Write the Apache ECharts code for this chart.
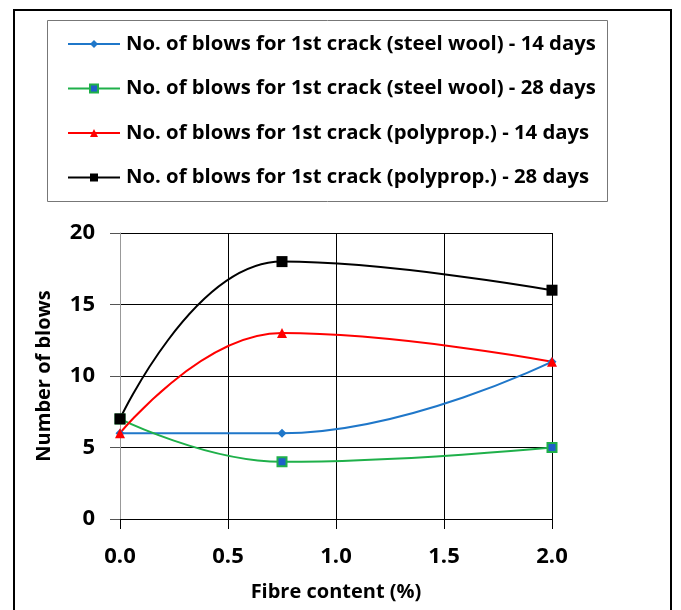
<!DOCTYPE html>
<html><head><meta charset="utf-8">
<script src="https://cdn.jsdelivr.net/npm/echarts@6/dist/echarts.min.js"></script>
<style>html,body{margin:0;padding:0;background:#fff;}#c{width:681px;height:610px;}</style>
</head><body><div id="c"></div>
<script>
const fibre = [0, 0.75, 2.0];
const steel14 = [6, 6, 11];
const steel28 = [7, 4, 5];
const poly14 = [6, 13, 11];
const poly28 = [7, 18, 16];
const names = [
  'No. of blows for 1st crack (steel wool) - 14 days',
  'No. of blows for 1st crack (steel wool) - 28 days',
  'No. of blows for 1st crack (polyprop.) - 14 days',
  'No. of blows for 1st crack (polyprop.) - 28 days'
];
const xTicks = [0, 0.5, 1.0, 1.5, 2.0];
const yTicks = [0, 5, 10, 15, 20];

const F = '"Open Sans", Lato, sans-serif';
function pts(v){ return fibre.map((x,i)=>[x, v[i]]); }
const chart = echarts.init(document.getElementById('c'));
function ser(name, vals, color, symbol, size, fill, bcolor){
  return {name, type:'line', data:pts(vals), smooth:0.45, symbol, symbolSize:size,
    lineStyle:{color, width:2}, itemStyle:{color:fill, borderColor:bcolor||fill, borderWidth:bcolor?2:0},
    emphasis:{disabled:true}, z:3};
}
chart.setOption({
  animation:false,
  graphic:[
    {type:'rect', shape:{x:14, y:10, width:657, height:620}, style:{fill:'none', stroke:'#000', lineWidth:2}, z:-1},
    {type:'rect', shape:{x:47.5, y:20.5, width:560, height:181}, style:{fill:'none', stroke:'#777', lineWidth:1}, z:-1}
  ],
  legend:{
    orient:'vertical', left:62, top:29, itemGap:24.5, itemWidth:52, itemHeight:10,
    textStyle:{fontFamily:F, fontWeight:'bold', fontSize:20.3, color:'#000', padding:[0,0,0,1]},
    data:names
  },
  grid:{left:120, right:129, top:233, height:286},
  xAxis:{type:'value', min:0, max:2, interval:0.5,
    axisLine:{show:true, onZero:false, lineStyle:{color:'#000'}},
    axisTick:{show:true, length:10, lineStyle:{color:'#000'}},
    splitLine:{show:true, lineStyle:{color:'#000', width:1}},
    axisLabel:{formatter:v=>v.toFixed(1), margin:27, fontFamily:F, fontWeight:'bold', fontSize:22, color:'#000'},
    name:'Fibre content (%)', nameLocation:'middle', nameGap:63,
    nameTextStyle:{fontFamily:F, fontWeight:'bold', fontSize:20, color:'#000'}
  },
  yAxis:{type:'value', min:0, max:20, interval:5,
    axisLine:{show:true, lineStyle:{color:'#999'}},
    axisTick:{show:true, length:10, lineStyle:{color:'#555'}},
    splitLine:{show:true, lineStyle:{color:'#000', width:1}},
    axisLabel:{margin:25, fontFamily:F, fontWeight:'bold', fontSize:22, color:'#000'},
    name:'Number of blows', nameLocation:'middle', nameGap:66,
    nameTextStyle:{fontFamily:F, fontWeight:'bold', fontSize:20, color:'#000'}
  },
  series:[
    ser(names[0], steel14, '#1f77c9', 'diamond', 9, '#1f77c9'),
    ser(names[1], steel28, '#1fb04a', 'rect', 9, '#1f5fc9', '#1fb04a'),
    ser(names[2], poly14, '#ff0000', 'triangle', 10, '#ff0000'),
    ser(names[3], poly28, '#000000', 'rect', 11, '#000000')
  ]
});
</script></body></html>
